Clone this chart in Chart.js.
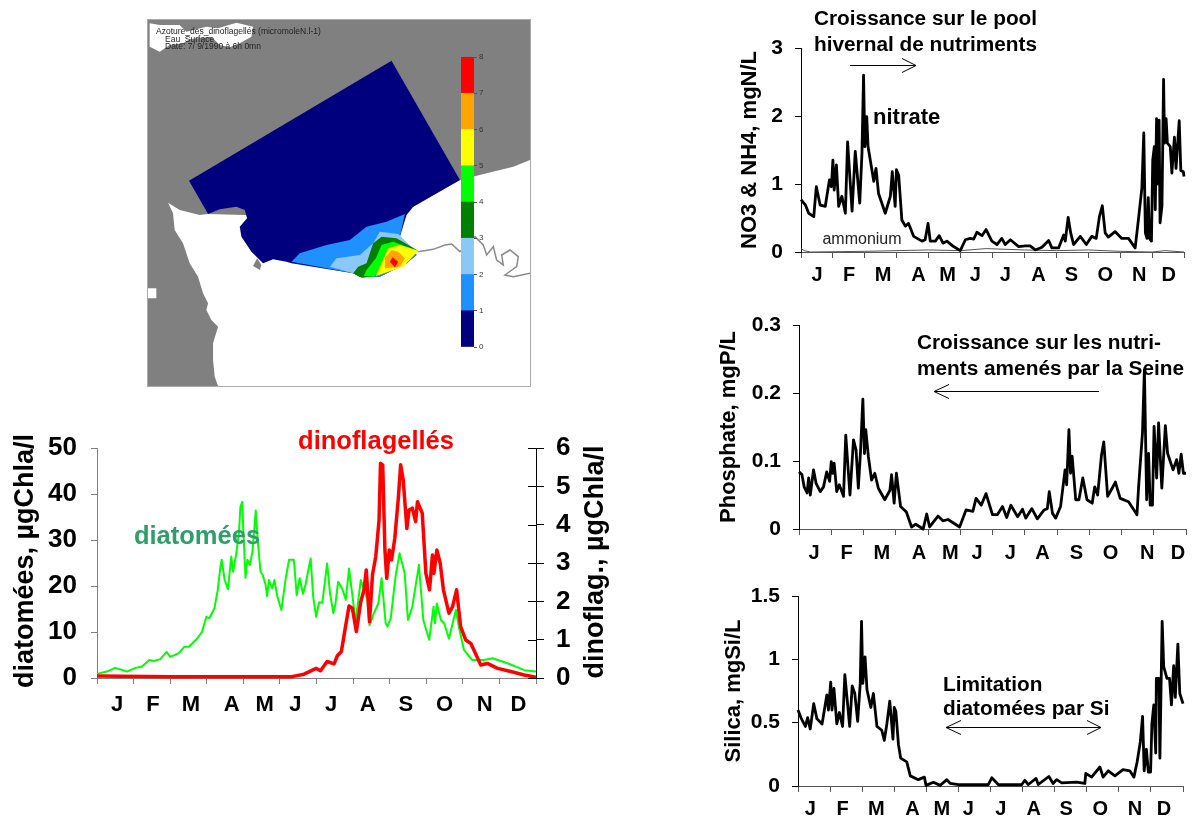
<!DOCTYPE html>
<html>
<head>
<meta charset="utf-8">
<title>Dinoflagellés et nutriments</title>
<script src="https://cdn.jsdelivr.net/npm/chart.js@4"></script>
<style>
  html, body { margin: 0; padding: 0; background: #fff; }
  body { width: 1192px; height: 816px; position: relative; overflow: hidden; }
  canvas { position: absolute; }
  #map { filter: blur(0.6px); outline: 1px solid #aaa; }
  #colorbar { filter: blur(0.4px); }
</style>
</head>
<body>
<canvas id="map"></canvas>
<canvas id="colorbar"></canvas>
<canvas id="phyto"></canvas>
<canvas id="nitrogen"></canvas>
<canvas id="phosphate"></canvas>
<canvas id="silica"></canvas>
<script>
// categories : x is in months since 1 January, 0 to 12
const months = ['J', 'F', 'M', 'A', 'M', 'J', 'J', 'A', 'S', 'O', 'N', 'D'];

// the month letters were placed by hand in the source figure, so each panel has its own
const phytoLabelAt = [0.55, 1.53, 2.57, 3.68, 4.58, 5.42, 6.4, 7.4, 8.44, 9.5, 10.6, 11.52];
const nitrogenLabelAt = [0.5, 1.51, 2.57, 3.68, 4.59, 5.46, 6.4, 7.44, 8.47, 9.53, 10.6, 11.52];
const phosphateLabelAt = [0.47, 1.48, 2.57, 3.72, 4.69, 5.52, 6.55, 7.55, 8.6, 9.66, 10.8, 11.75];
const silicaLabelAt = [0.38, 1.39, 2.44, 3.57, 4.48, 5.31, 6.32, 7.35, 8.36, 9.42, 10.5, 11.41];

// series as [month, value]
const diatomees = [[0,0.9],[0.27,1.4],[0.5,2.2],[0.82,1.4],[1.05,2.2],[1.23,2.5],[1.43,3.9],[1.55,3.7],[1.73,4.1],[1.9,5.7],[2,4.6],
  [2.24,5.4],[2.39,6.8],[2.51,6.8],[2.74,8.6],[2.87,10],[2.99,13.3],[3.07,13],[3.21,15.1],[3.3,19.1],[3.38,24.6],[3.41,25.7],[3.49,21.3],
  [3.58,19.3],[3.67,26.4],[3.72,23.1],[3.8,26.7],[3.88,31.4],[3.92,37.2],[3.97,38.3],[4,32],[4.06,21.8],[4.11,25.7],[4.18,24.6],[4.25,27.5],
  [4.34,36.4],[4.4,29.3],[4.47,23.1],[4.53,22.4],[4.61,20.2],[4.65,17.8],[4.7,21.3],[4.79,19.5],[4.85,21.3],[4.93,17.7],[5.04,14.8],[5.16,21.7],
  [5.25,25.7],[5.38,25.7],[5.46,18],[5.54,21.7],[5.63,18.3],[5.7,20.2],[5.75,22.4],[5.84,26],[5.91,17.7],[5.99,13.3],[6.07,16.4],[6.16,16.4],
  [6.29,24.9],[6.37,18.4],[6.46,14.1],[6.52,16.2],[6.59,20.9],[6.7,19.5],[6.8,17],[6.89,23.8],[7.07,12.2],[7.21,21.3],[7.39,17],[7.45,11.5],
  [7.57,14.1],[7.69,16.2],[7.78,21.7],[7.89,11.9],[7.94,11.2],[8.03,13],[8.16,22],[8.27,27.1],[8.41,22.8],[8.5,12.6],[8.62,15.5],[8.8,24.6],
  [8.92,12.6],[9.08,8.3],[9.2,15.5],[9.24,11.9],[9.29,16.2],[9.4,12.6],[9.49,11.9],[9.62,8.6],[9.81,14.8],[9.9,10.8],[10.03,6.1],[10.26,3.9],
  [10.58,3.9],[10.81,4.3],[11.22,3.2],[11.68,1.7],[12,1.4]];
const dinoflagelles = [[0,0.05],[2,0.03],[4,0.03],[5.29,0.03],[5.66,0.1],[5.99,0.25],[6.11,0.19],[6.29,0.43],[6.48,0.37],[6.57,0.58],[6.68,0.69],
  [6.77,1.21],[6.89,1.88],[6.98,1.82],[7.09,1.21],[7.21,1.99],[7.3,2.3],[7.36,2.82],[7.45,1.47],[7.53,2.69],[7.62,3.17],[7.71,4.12],[7.75,5.6],
  [7.81,5.56],[7.87,3.34],[7.92,2.6],[7.99,3.34],[8.05,3.08],[8.14,3.64],[8.24,4.73],[8.3,5.56],[8.37,5.17],[8.47,3.9],[8.53,4.38],[8.62,4.43],
  [8.71,4.08],[8.76,4.6],[8.89,4.3],[8.99,2.73],[9.09,2.3],[9.17,3.21],[9.21,2.73],[9.29,3.34],[9.38,3],[9.47,2.3],[9.62,1.69],[9.72,1.86],
  [9.83,2.3],[9.94,1.34],[10.08,0.99],[10.22,0.9],[10.49,0.34],[10.67,0.38],[10.95,0.25],[11.31,0.17],[11.68,0.08],[12,0.02]];
const nitrate = [[0,0.77],[0.14,0.69],[0.24,0.57],[0.4,0.52],[0.48,0.96],[0.6,0.69],[0.76,0.67],[0.89,1.06],[0.95,0.96],[1,1.35],
  [1.04,0.91],[1.11,1.28],[1.18,0.67],[1.28,0.82],[1.39,0.57],[1.46,1.62],[1.6,0.6],[1.7,1.48],[1.84,0.72],[1.91,1.45],[1.96,2.6],
  [2,1.55],[2.06,1.99],[2.1,1.55],[2.28,1.04],[2.35,1.23],[2.43,0.86],[2.64,0.57],[2.8,0.82],[2.86,1.18],[2.95,0.67],[2.99,1.21],
  [3.06,1.13],[3.16,0.47],[3.27,0.38],[3.37,0.42],[3.53,0.23],[3.79,0.16],[3.89,0.18],[3.98,0.42],[4.05,0.16],[4.21,0.16],[4.33,0.24],
  [4.45,0.13],[4.57,0.16],[4.78,0.08],[4.99,0.02],[5.15,0.18],[5.3,0.2],[5.41,0.19],[5.51,0.29],[5.67,0.24],[5.8,0.33],[5.98,0.16],
  [6.14,0.11],[6.29,0.2],[6.4,0.11],[6.56,0.18],[6.82,0.08],[7.03,0.09],[7.18,0.09],[7.34,0.03],[7.55,0.07],[7.76,0.17],[7.86,0.06],
  [8.07,0.06],[8.23,0.25],[8.28,0.16],[8.37,0.51],[8.45,0.28],[8.54,0.11],[8.75,0.23],[8.94,0.11],[9.11,0.23],[9.25,0.2],[9.35,0.52],
  [9.44,0.68],[9.53,0.28],[9.63,0.22],[9.84,0.3],[10.05,0.2],[10.26,0.2],[10.47,0.06],[10.57,0.47],[10.68,0.94],[10.74,1.75],[10.79,0.28],
  [10.84,0.2],[10.88,0.8],[10.92,0.2],[10.98,0.16],[11.02,1.35],[11.07,1.55],[11.1,0.62],[11.14,1.96],[11.18,1],[11.22,1.94],[11.25,0.43],
  [11.31,0.68],[11.36,2.54],[11.39,1.6],[11.44,1.96],[11.48,1.6],[11.57,1.55],[11.62,1.16],[11.7,1.69],[11.75,1.23],[11.85,1.93],[11.9,1.2],
  [11.98,1.18],[12,1.11]];
const ammonium = [[0,0.05],[0.1,0.02],[0.3,0],[2,0.01],[4,0.03],[5,0.02],[5.8,0.05],[7,0.03],[8,0.02],[9,0.03],[10,0.01],[11,0],[11.4,0.02],[12,0]];
const phosphate = [[0,0.084],[0.09,0.08],[0.16,0.062],[0.25,0.053],[0.3,0.075],[0.35,0.05],[0.45,0.087],[0.53,0.067],[0.66,0.055],[0.76,0.062],
  [0.86,0.084],[0.95,0.07],[1,0.099],[1.05,0.082],[1.09,0.097],[1.17,0.055],[1.25,0.065],[1.38,0.048],[1.45,0.138],[1.58,0.05],[1.69,0.131],
  [1.77,0.116],[1.84,0.06],[1.91,0.116],[1.98,0.191],[2.03,0.111],[2.07,0.146],[2.15,0.107],[2.25,0.072],[2.35,0.082],[2.46,0.06],[2.66,0.043],
  [2.82,0.057],[2.87,0.08],[2.95,0.038],[3.02,0.082],[3.15,0.033],[3.33,0.025],[3.49,0.003],[3.62,0.007],[3.85,0],[3.96,0.022],[4.05,0.003],
  [4.31,0.019],[4.46,0.012],[4.62,0.014],[4.98,0.003],[5.18,0.028],[5.39,0.026],[5.49,0.045],[5.65,0.035],[5.8,0.052],[6,0.021],[6.15,0.021],
  [6.31,0.033],[6.44,0.017],[6.57,0.035],[6.78,0.018],[6.93,0.029],[7.03,0.016],[7.22,0.03],[7.39,0.015],[7.6,0.028],[7.7,0.03],[7.76,0.055],
  [7.86,0.023],[7.96,0.016],[8.11,0.033],[8.25,0.087],[8.3,0.065],[8.37,0.146],[8.42,0.082],[8.47,0.107],[8.58,0.043],[8.68,0.043],[8.8,0.075],
  [8.93,0.043],[9.09,0.038],[9.17,0.062],[9.26,0.05],[9.38,0.109],[9.45,0.128],[9.57,0.048],[9.71,0.06],[9.81,0.069],[9.96,0.045],[10.22,0.04],
  [10.48,0.021],[10.53,0.062],[10.65,0.141],[10.71,0.234],[10.78,0.043],[10.84,0.111],[10.89,0.035],[10.96,0.035],[11.01,0.151],[11.09,0.075],
  [11.15,0.156],[11.25,0.06],[11.36,0.152],[11.43,0.111],[11.6,0.087],[11.71,0.102],[11.78,0.082],[11.85,0.11],[11.92,0.082],[12,0.082]];
const silica = [[0,0.6],[0.09,0.54],[0.23,0.47],[0.3,0.54],[0.38,0.45],[0.49,0.65],[0.59,0.53],[0.75,0.49],[0.9,0.72],[0.95,0.6],[1.02,0.82],
  [1.06,0.6],[1.12,0.77],[1.21,0.49],[1.29,0.58],[1.39,0.47],[1.46,0.88],[1.61,0.47],[1.69,0.79],[1.77,0.73],[1.86,0.51],[1.94,0.81],[1.98,1.3],
  [2.02,0.81],[2.09,1.02],[2.15,0.76],[2.27,0.62],[2.35,0.73],[2.46,0.47],[2.61,0.44],[2.69,0.36],[2.77,0.49],[2.86,0.67],[2.96,0.37],[3,0.62],
  [3.05,0.59],[3.13,0.33],[3.2,0.22],[3.39,0.19],[3.5,0.08],[3.75,0.05],[3.94,0.07],[3.99,0.005],[4.22,0.03],[4.43,0.005],[4.64,0.05],[4.74,0.02],
  [5,0.01],[5.93,0.01],[6.04,0.065],[6.25,0.01],[6.97,0.01],[7.07,0.045],[7.18,0.012],[7.42,0.06],[7.49,0.012],[7.82,0.075],[7.95,0.02],[8.06,0.05],
  [8.22,0.025],[8.68,0.03],[8.94,0.02],[8.97,0.1],[9.15,0.07],[9.41,0.15],[9.51,0.07],[9.67,0.12],[9.88,0.08],[10.13,0.13],[10.34,0.12],[10.47,0.07],
  [10.57,0.19],[10.67,0.35],[10.74,0.55],[10.79,0.12],[10.86,0.29],[10.92,0.11],[10.99,0.11],[11.03,0.49],[11.09,0.64],[11.15,0.26],[11.17,0.85],
  [11.25,0.85],[11.28,0.22],[11.35,1.3],[11.4,0.94],[11.5,0.85],[11.58,0.85],[11.64,0.64],[11.71,0.95],[11.76,0.7],[11.84,1.12],[11.9,0.73],[12,0.65]];

// map as [x, y] in map units
const mapLand = [[25,30],[1170,30],[1170,450],[1120,470],[1040,490],[960,510],[820,590],[500,620],[205,612],[180,615],[120,600],[85,578],
  [100,610],[105,660],[130,700],[150,760],[175,800],[190,850],[205,880],[200,900],[215,930],[235,950],[220,1000],[220,1050],[225,1100],[235,1128],[25,1128]];
const mapIslandNorth = [[30,40],[60,45],[120,45],[140,65],[200,50],[235,55],[290,38],[340,50],[335,80],[300,100],[270,112],[240,105],[215,80],
  [150,88],[130,100],[90,105],[60,125],[30,110]];
const mapIslandWest = [[25,835],[50,835],[50,865],[25,865]];
const mapCape = [[340,768],[352,745],[365,765],[360,780]];
const mapDomain = [[755,152],[148,512],[205,612],[240,598],[290,590],[315,600],[322,625],[300,650],[305,680],[335,725],[370,760],[400,748],[440,755],
  [455,760],[640,790],[660,800],[720,800],[800,760],[830,735],[780,680],[800,615],[820,590],[960,510]];
const mapLevel1 = [[455,755],[480,730],[560,705],[630,690],[680,650],[740,635],[795,612],[780,680],[830,735],[800,760],[720,800],[660,800],[640,790]];
const mapLevel2 = [[570,770],[590,745],[660,735],[700,700],[720,665],[775,672],[830,725],[700,800],[640,790]];
const mapLevel3 = [[640,790],[655,770],[680,760],[700,700],[725,680],[770,685],[835,722],[700,800],[665,803]];
const mapLevel4 = [[672,798],[680,780],[708,745],[725,705],[760,695],[835,722],[700,800]];
const mapLevel5 = [[708,798],[725,760],[745,715],[780,705],[835,722],[790,770]];
const mapLevel6 = [[735,775],[735,745],[755,720],[775,725],[795,745],[780,770]];
const mapLevel7 = [[750,755],[758,742],[775,755],[765,772]];
const mapRiver = [[835,725],[880,718],[915,705],[935,702],[960,725],[985,700],[1005,680],[1030,705],[1040,735],[1060,710],[1070,750],[1090,765],[1085,735],
  [1110,720],[1135,740],[1130,770],[1095,795],[1120,800],[1170,790]];

// colour bar, one band per unit from 0 to 8
const levelColors = ['#00007f', '#1e90ff', '#8cc8f5', '#008000', '#00ff00', '#ffff00', '#ffa500', '#ff0000'];
const bandSize = [1, 1, 1, 1, 1, 1, 1, 1];

const FONT = '"Liberation Sans", Arial, sans-serif';

// textes et fleches, en pixels de la page
const notesPlugin = {
  id: 'notes',
  afterDraw(chart, args, opts) {
    const ctx = chart.ctx;
    ctx.save();
    ctx.translate(-opts.left, -opts.top);
    (opts.texts || []).forEach(t => {
      ctx.save();
      ctx.translate(t.x, t.y);
      if (t.rotate) ctx.rotate(t.rotate);
      if (t.wide) ctx.scale(t.wide, 1);
      ctx.font = t.font;
      ctx.fillStyle = t.color || '#000';
      ctx.textAlign = t.align || 'left';
      ctx.textBaseline = 'middle';
      ctx.fillText(t.text, 0, 0);
      ctx.restore();
    });
    (opts.arrows || []).forEach(a => {
      ctx.strokeStyle = '#000';
      ctx.lineWidth = 1;
      ctx.beginPath();
      ctx.moveTo(a.x1, a.y);
      ctx.lineTo(a.x2, a.y);
      if (a.headEnd) {
        ctx.moveTo(a.x2 - 14, a.y - 7);
        ctx.lineTo(a.x2, a.y);
        ctx.lineTo(a.x2 - 14, a.y + 7);
      }
      if (a.headStart) {
        ctx.moveTo(a.x1 + 15, a.y - 7);
        ctx.lineTo(a.x1, a.y);
        ctx.lineTo(a.x1 + 15, a.y + 7);
      }
      ctx.stroke();
    });
    ctx.restore();
    // l'axe de droite a des tirets des deux cotes
    const y2 = chart.scales.y2;
    if (y2) {
      ctx.save();
      ctx.strokeStyle = '#000';
      ctx.beginPath();
      y2.ticks.forEach(t => {
        const py = Math.round(y2.getPixelForValue(t.value)) + 0.5;
        ctx.moveTo(y2.left - 8, py);
        ctx.lineTo(y2.left, py);
      });
      ctx.stroke();
      ctx.restore();
    }
  }
};

function placeCanvas(id, left, top, width, height) {
  const c = document.getElementById(id);
  c.width = width;
  c.height = height;
  c.style.left = left + 'px';
  c.style.top = top + 'px';
  return c;
}

function monthAxis(box, labelAt, fontSize, padding, color) {
  return {
    type: 'linear',
    min: 0,
    max: 12,
    afterBuildTicks(scale) {
      const ticks = labelAt.slice();
      for (let i = 0; i <= 12; i++) ticks.push(i);
      ticks.sort((a, b) => a - b);
      scale.ticks = ticks.map(v => ({ value: v }));
    },
    afterFit(scale) { scale.height = box.top + box.height - box.plotBottom; },
    grid: {
      drawOnChartArea: false,
      tickLength: 6,
      tickColor: c => Number.isInteger(c.tick.value) ? color : 'rgba(0,0,0,0)'
    },
    border: { color: color },
    ticks: {
      autoSkip: false,
      maxRotation: 0,
      minRotation: 0,
      padding: padding,
      color: '#000',
      font: { family: FONT, size: fontSize, weight: 'bold' },
      callback: v => labelAt.indexOf(v) >= 0 ? months[labelAt.indexOf(v)] : ''
    }
  };
}

function valueAxis(box, max, step, fontSize, color, title, titleSize, titlePad) {
  return {
    type: 'linear',
    position: 'left',
    min: 0,
    max: max,
    afterFit(scale) { scale.width = box.plotLeft - box.left; },
    grid: { drawOnChartArea: false, tickLength: 6, tickColor: color },
    border: { color: color },
    title: {
      display: true,
      text: title,
      color: '#000',
      padding: { top: titlePad, bottom: 0 },
      font: { family: FONT, size: titleSize, weight: 'bold' }
    },
    ticks: {
      stepSize: step,
      padding: 12,
      color: '#000',
      font: { family: FONT, size: fontSize, weight: 'bold' },
      callback: v => String(+v.toFixed(1))
    }
  };
}

function lineSet(points, color, width, axis) {
  return {
    data: points,
    borderColor: color,
    borderWidth: width,
    borderJoinStyle: 'round',
    pointRadius: 0,
    tension: 0,
    fill: false,
    clip: false,
    yAxisID: axis || 'y'
  };
}

function baseOptions(box, scales, notes) {
  return {
    responsive: false,
    animation: false,
    events: [],
    layout: { padding: { top: box.plotTop - box.top, right: box.paddingRight || 0, left: 0, bottom: 0 } },
    plugins: {
      legend: { display: false },
      tooltip: { enabled: false },
      notes: Object.assign({ left: box.left, top: box.top }, notes)
    },
    scales: scales
  };
}

function nutrientChart(id, box, datasets, labelAt, max, step, title, titlePad, notes) {
  const c = placeCanvas(id, box.left, box.top, box.width, box.height);
  box.paddingRight = box.left + box.width - box.plotRight;
  new Chart(c, {
    type: 'line',
    data: { datasets: datasets },
    options: baseOptions(box, {
      x: monthAxis(box, labelAt, 20, box.labelPad, '#555'),
      y: valueAxis(box, max, step, 21, '#000', title, 22, titlePad)
    }, notes),
    plugins: [notesPlugin]
  });
}

function createMap() {
  const c = placeCanvas('map', 148, 20, 382, 366);
  const shape = (points, color) => ({
    data: points,
    backgroundColor: color,
    borderWidth: 0,
    pointRadius: 0,
    tension: 0,
    fill: 'shape'
  });
  // le premier jeu de donnees est dessine au-dessus
  const datasets = [
    shape(mapLevel7, levelColors[7]),
    shape(mapLevel6, levelColors[6]),
    shape(mapLevel5, levelColors[5]),
    shape(mapLevel4, levelColors[4]),
    shape(mapLevel3, levelColors[3]),
    shape(mapLevel2, levelColors[2]),
    shape(mapLevel1, levelColors[1]),
    shape(mapDomain, levelColors[0]),
    { data: mapRiver, borderColor: '#8a8a8a', borderWidth: 1.5, pointRadius: 0, tension: 0, fill: false },
    shape(mapCape, '#808080'),
    shape(mapIslandNorth, '#ffffff'),
    shape(mapIslandWest, '#ffffff'),
    shape(mapLand, '#808080')
  ];
  new Chart(c, {
    type: 'line',
    data: { datasets: datasets },
    options: {
      responsive: false,
      animation: false,
      events: [],
      plugins: {
        legend: { display: false },
        tooltip: { enabled: false },
        notes: {
          left: 148,
          top: 20,
          texts: [
            { text: 'Azoture_des_dinoflagellés (micromoleN.l-1)', x: 156, y: 32, font: '8.5px ' + FONT, color: '#222' },
            { text: 'Eau_Surface', x: 165, y: 40, font: '8.5px ' + FONT, color: '#222' },
            { text: 'Date: 7/ 9/1990 à 6h 0mn', x: 165, y: 47, font: '8.5px ' + FONT, color: '#222' }
          ]
        }
      },
      scales: {
        x: { type: 'linear', display: false, min: 25, max: 1170 },
        y: { type: 'linear', display: false, min: 30, max: 1128, reverse: true }
      }
    },
    plugins: [notesPlugin]
  });
}

function createColorBar() {
  const c = placeCanvas('colorbar', 455, 45, 40, 315);
  new Chart(c, {
    type: 'bar',
    data: {
      labels: [''],
      datasets: bandSize.map((v, i) => ({ data: [v], backgroundColor: levelColors[i], barPercentage: 1, categoryPercentage: 1 }))
    },
    options: {
      responsive: false,
      animation: false,
      events: [],
      layout: { padding: { top: 12, bottom: 13, left: 6, right: 0 } },
      plugins: { legend: { display: false }, tooltip: { enabled: false } },
      scales: {
        x: { stacked: true, display: false },
        y: {
          stacked: true,
          position: 'right',
          min: 0,
          max: 8,
          afterFit(scale) { scale.width = 21; },
          grid: { drawOnChartArea: false, tickLength: 3, tickColor: '#555' },
          border: { display: false },
          ticks: { stepSize: 1, padding: 2, color: '#333', font: { family: FONT, size: 8 } }
        }
      }
    }
  });
}

function createPhyto() {
  const box = { left: 0, top: 395, width: 610, height: 335, plotLeft: 97, plotRight: 536, plotTop: 448, plotBottom: 678 };
  const c = placeCanvas('phyto', box.left, box.top, box.width, box.height);
  const x = monthAxis(box, phytoLabelAt, 22, 8, '#808080');
  const y = valueAxis(box, 50, 10, 26, '#808080', 'diatomées, µgChla/l', 27, 10);
  y.ticks.padding = 14;
  y.title.display = false;
  const y2 = {
    type: 'linear',
    position: 'right',
    min: 0,
    max: 6,
    afterFit(scale) { scale.width = box.width - box.plotRight; },
    grid: { drawOnChartArea: false, tickLength: 8, tickColor: '#000' },
    border: { color: '#000' },
    ticks: { stepSize: 1, padding: 12, color: '#000', font: { family: FONT, size: 26, weight: 'bold' } }
  };
  new Chart(c, {
    type: 'line',
    data: { datasets: [lineSet(dinoflagelles, '#ff0000', 3.5, 'y2'), lineSet(diatomees, '#00ff00', 2, 'y')] },
    options: baseOptions(box, { x: x, y: y, y2: y2 }, {
      texts: [
        { text: 'dinoflagellés', x: 376, y: 442, align: 'center', font: 'bold 25.5px ' + FONT, color: '#ff0000' },
        { text: 'diatomées', x: 197, y: 537, align: 'center', font: 'bold 25.5px ' + FONT, color: '#2e9e6b' },
        { text: 'diatomées, µgChla/l', x: 26, y: 561, align: 'center', rotate: -Math.PI / 2, font: 'bold 27px ' + FONT },
        { text: 'dinoflag., µgChla/l', x: 596, y: 562, align: 'center', rotate: -Math.PI / 2, font: 'bold 27px ' + FONT }
      ]
    }),
    plugins: [notesPlugin]
  });
}

function initCharts() {
  createMap();
  createColorBar();
  createPhyto();

  nutrientChart('nitrogen',
    { left: 715, top: 0, width: 477, height: 292, plotLeft: 801, plotRight: 1184, plotTop: 48, plotBottom: 252, labelPad: 5 },
    [lineSet(nitrate, '#000', 2.8), lineSet(ammonium, '#555', 1)],
    nitrogenLabelAt, 3, 1, 'NO3 & NH4, mgN/L', 22, {
      texts: [
        { text: 'Croissance sur le pool', x: 814, y: 19, wide: 1.04, font: 'bold 20px ' + FONT },
        { text: 'hivernal de nutriments', x: 814, y: 45, wide: 1.04, font: 'bold 20px ' + FONT },
        { text: 'nitrate', x: 873, y: 118, font: 'bold 22px ' + FONT },
        { text: 'ammonium', x: 862, y: 240, align: 'center', font: '16px ' + FONT, color: '#222' }
      ],
      arrows: [{ x1: 850, x2: 916, y: 65.5, headEnd: true }]
    });

  nutrientChart('phosphate',
    { left: 715, top: 290, width: 477, height: 282, plotLeft: 799, plotRight: 1188, plotTop: 325, plotBottom: 529, labelPad: 6 },
    [lineSet(phosphate, '#000', 2.8)],
    phosphateLabelAt, 0.3, 0.1, 'Phosphate, mgP/L', 1, {
      texts: [
        { text: 'Croissance sur les nutri-', x: 917, y: 343, wide: 1.04, font: 'bold 20px ' + FONT },
        { text: 'ments amenés par la Seine', x: 917, y: 369, wide: 1.04, font: 'bold 20px ' + FONT }
      ],
      arrows: [{ x1: 934, x2: 1099, y: 391.5, headStart: true }]
    });

  nutrientChart('silica',
    { left: 715, top: 556, width: 477, height: 260, plotLeft: 798, plotRight: 1183, plotTop: 596, plotBottom: 786, labelPad: 5 },
    [lineSet(silica, '#000', 2.8)],
    silicaLabelAt, 1.5, 0.5, 'Silica, mgSi/L', 6, {
      texts: [
        { text: 'Limitation', x: 943, y: 685, wide: 1.04, font: 'bold 20px ' + FONT },
        { text: 'diatomées par Si', x: 943, y: 709, wide: 1.04, font: 'bold 20px ' + FONT }
      ],
      arrows: [{ x1: 946, x2: 1101, y: 727.5, headStart: true, headEnd: true }]
    });
}

document.addEventListener('DOMContentLoaded', initCharts);
</script>
</body>
</html>
